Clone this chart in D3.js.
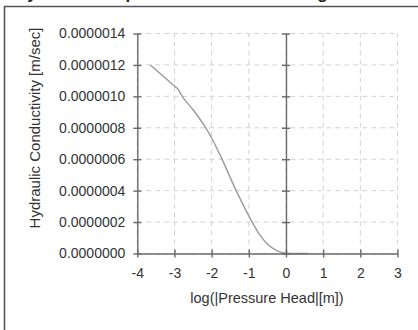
<!DOCTYPE html>
<html><head><meta charset="utf-8">
<script src="https://cdn.jsdelivr.net/npm/d3@7"></script>
<style>html,body{margin:0;padding:0;background:#fff;}svg{display:block;}</style>
</head><body>
<script>
const logHead = [-3.65, -2.9, -2.79, -2.5, -2.2, -2.0, -1.75, -1.34, -0.91, -0.75, -0.5, -0.25, 0.0, 0.25, 0.6];
const conductivity = [1.20e-6, 1.045e-6, 1.0e-6, 0.915e-6, 0.815e-6, 0.735e-6, 0.615e-6, 0.40e-6, 0.20e-6, 0.135e-6, 0.06e-6, 0.018e-6, 0.002e-6, 0, 0];
const xTicks = [-4, -3, -2, -1, 0, 1, 2, 3];
const yTicks = [0, 2e-7, 4e-7, 6e-7, 8e-7, 10e-7, 12e-7, 14e-7];
const title = "Hydraulic Properties of the Soil vs Log";
const xTitle = "log(|Pressure Head|[m])";
const yTitle = "Hydraulic Conductivity [m/sec]";

const W = 418, H = 330;
const svg = d3.select("body").append("svg").attr("width", W).attr("height", H);
const font = "Liberation Sans, Arial, Helvetica, sans-serif";

// frame
svg.append("path").attr("d", `M4.5,${H}V6.5H${W}`).attr("fill","none").attr("stroke","#555").attr("stroke-width",1.6);
svg.append("text").attr("x", 15).attr("y", -1).attr("font-family", font).attr("font-weight","bold")
  .attr("font-size", 17).attr("fill","#222").text(title);

const x = d3.scaleLinear().domain([-4, 3]).range([137.3, 397.5]);
const y = d3.scaleLinear().domain([0, 1.4e-6]).range([253.5, 33.5]);

const g = svg.append("g");
// gridlines
g.selectAll(".gx").data(xTicks).enter().append("line")
  .attr("x1", d => x(d)).attr("x2", d => x(d)).attr("y1", y(0)).attr("y2", y(1.4e-6))
  .attr("stroke", "#d2d2d2").attr("stroke-dasharray", "5,4");
g.selectAll(".gy").data(yTicks).enter().append("line")
  .attr("x1", x(-4)).attr("x2", x(3)).attr("y1", d => y(d)).attr("y2", d => y(d))
  .attr("stroke", "#d2d2d2").attr("stroke-dasharray", "5,4");

// curve: straight first segment, smooth remainder
const pts = logHead.map((h, i) => [x(h), y(conductivity[i])]);
g.append("path").attr("d", d3.line()(pts.slice(0, 2))).attr("fill","none")
  .attr("stroke","#9a9a9a").attr("stroke-width",1.4);
g.append("path").attr("d", d3.line().curve(d3.curveMonotoneX)(pts.slice(1))).attr("fill","none")
  .attr("stroke","#9a9a9a").attr("stroke-width",1.4);

// axes
const axCol = "#6a6a6a";
function styleAxis(sel){
  sel.select(".domain").attr("stroke", axCol).attr("stroke-width", 1.4);
  sel.selectAll(".tick line").attr("stroke", axCol).attr("stroke-width", 1.4);
}
const yAxisL = d3.axisLeft(y).tickValues(yTicks).tickSizeInner(4).tickSizeOuter(0).tickFormat(d => d3.format(".7f")(d)).tickPadding(8);
const gl = g.append("g").attr("transform", `translate(${x(-4)},0)`).call(yAxisL);
styleAxis(gl);
gl.selectAll(".tick line").attr("x1", -4).attr("x2", 4);
gl.selectAll("text").attr("font-family", font).attr("font-size", 14).attr("fill", "#333");

const gm = g.append("g").attr("transform", `translate(${x(0)},0)`).call(d3.axisLeft(y).tickValues(yTicks).tickSizeOuter(0).tickFormat(""));
styleAxis(gm);
gm.selectAll(".tick line").attr("x1", -4).attr("x2", 4);

const xAxis = d3.axisBottom(x).tickValues(xTicks).tickSizeOuter(0).tickFormat(d => String(d)).tickPadding(9);
const gb = g.append("g").attr("transform", `translate(0,${y(0)})`).call(xAxis);
styleAxis(gb);
gb.selectAll(".tick line").attr("y1", -4).attr("y2", 4);
gb.selectAll("text").attr("font-family", font).attr("font-size", 14).attr("fill", "#333");

// titles
svg.append("text").attr("x", 267).attr("y", 303).attr("text-anchor","middle")
  .attr("font-family", font).attr("font-size", 14.5).attr("fill","#333").text(xTitle);
svg.append("text").attr("transform", "translate(39.5,128) rotate(-90)").attr("text-anchor","middle")
  .attr("font-family", font).attr("font-size", 15).attr("fill","#333").text(yTitle);
</script>
</body></html>
